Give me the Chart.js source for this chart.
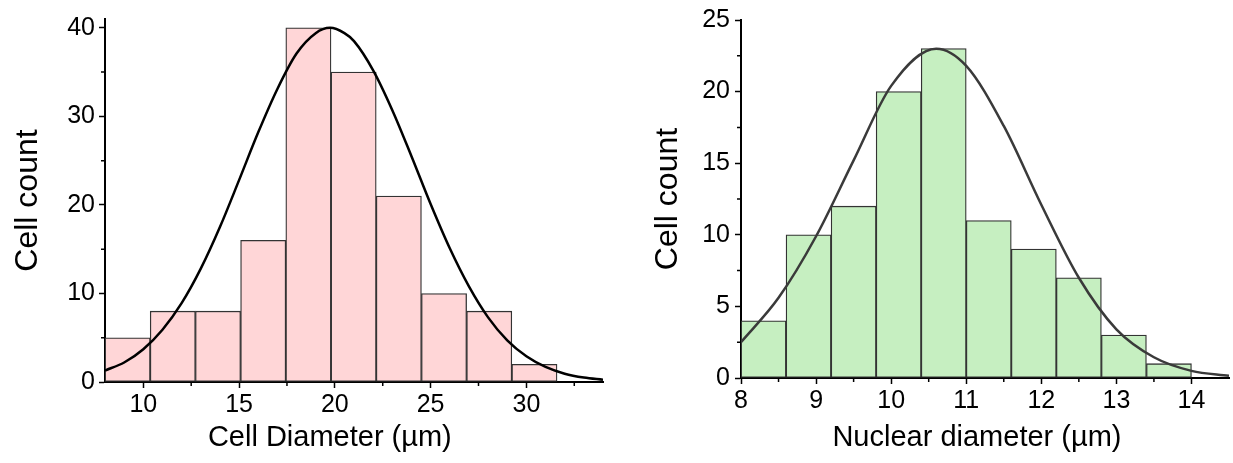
<!DOCTYPE html>
<html>
<head>
<meta charset="utf-8">
<script src="https://cdn.jsdelivr.net/npm/chart.js@4"></script>
<style>
  body { margin: 0; background: #fff; }
  #wrap { position: relative; width: 1233px; height: 463px; }
  #cellChart { position: absolute; left: 0; top: 0; }
  #nucChart { position: absolute; left: 620px; top: 0; }
</style>
</head>
<body>
<div id="wrap">
  <canvas id="cellChart" width="620" height="463"></canvas>
  <canvas id="nucChart" width="613" height="463"></canvas>
</div>
<script>
// cell diameter histogram (left)
const cellBinCenters = [9.18, 11.54, 13.90, 16.26, 18.62, 20.98, 23.34, 25.70, 28.06, 30.42];
const cellCounts = [5, 8, 8, 16, 40, 35, 21, 10, 8, 2];
const cellFitX = [8, 9, 10, 11, 12, 13, 14, 15, 16, 17, 18, 19, 19.75, 20.5, 21, 22, 23, 24, 25, 26, 27, 28, 29, 30, 31, 32, 33, 34];
const cellFitY = [1.3, 2.2, 3.7, 5.9, 8.9, 12.8, 17.5, 22.8, 28.2, 33.1, 37.1, 39.4, 40, 39.4, 38.5, 35.2, 30.7, 25.5, 20.1, 15.1, 10.8, 7.3, 4.7, 2.9, 1.7, 0.94, 0.5, 0.25];
const cellXTicks = [10, 15, 20, 25, 30];
const cellXMinor = [12.5, 17.5, 22.5, 27.5, 32.5];
const cellYTicks = [0, 10, 20, 30, 40];
const cellYMinor = [5, 15, 25, 35];

// nuclear diameter histogram (right)
const nucBinCenters = [8.3, 8.9, 9.5, 10.1, 10.7, 11.3, 11.9, 12.5, 13.1, 13.7];
const nucCounts = [4, 10, 12, 20, 23, 11, 9, 7, 3, 1];
const nucFitX = [8, 8.5, 9, 9.5, 10, 10.6, 11, 11.5, 12, 12.5, 13, 13.5, 14, 14.5];
const nucFitY = [2.5, 5.6, 9.9, 15.2, 20.4, 23, 21.8, 17.6, 12.1, 7.0, 3.4, 1.45, 0.5, 0.15];
const nucXTicks = [8, 9, 10, 11, 12, 13, 14];
const nucXMinor = [8.5, 9.5, 10.5, 11.5, 12.5, 13.5];
const nucYTicks = [0, 5, 10, 15, 20, 25];
const nucYMinor = [2.5, 7.5, 12.5, 17.5, 22.5];

const FONT = "'Liberation Sans', Arial, sans-serif";

// short minor ticks, Chart.js has none of its own
const minorTicks = {
  id: 'minorTicks',
  afterDraw(chart, args, opts) {
    const ctx = chart.ctx;
    const xs = chart.scales.x, ys = chart.scales.y;
    ctx.save();
    ctx.strokeStyle = '#000';
    ctx.lineWidth = 1.5;
    ctx.beginPath();
    opts.x.forEach(v => {
      const px = xs.getPixelForValue(v);
      ctx.moveTo(px, xs.top);
      ctx.lineTo(px, xs.top + 4);
    });
    opts.y.forEach(v => {
      const py = ys.getPixelForValue(v);
      ctx.moveTo(ys.right, py);
      ctx.lineTo(ys.right - 4, py);
    });
    ctx.stroke();
    ctx.restore();
  }
};

function makeHist(el, cfg) {
  const bars = cfg.centers.map((x, i) => ({ x: x, y: cfg.counts[i] }));
  const fit = cfg.fitX.map((x, i) => ({ x: x, y: cfg.fitY[i] }));
  return new Chart(document.getElementById(el), {
    data: {
      datasets: [{
        type: 'line',
        data: fit,
        borderColor: cfg.lineColor,
        borderWidth: 2.5,
        pointRadius: 0,
        cubicInterpolationMode: 'monotone',
        order: 0
      }, {
        type: 'bar',
        data: bars,
        backgroundColor: cfg.fill,
        borderColor: '#333',
        borderWidth: 1.3,
        borderSkipped: false,
        barPercentage: 1,
        categoryPercentage: 1,
        order: 1
      }]
    },
    plugins: [minorTicks],
    options: {
      responsive: false,
      animation: false,
      layout: { padding: cfg.padding },
      plugins: {
        legend: { display: false },
        tooltip: { enabled: false },
        minorTicks: { x: cfg.xMinor, y: cfg.yMinor }
      },
      scales: {
        x: {
          type: 'linear',
          offset: false,
          min: cfg.xMin,
          max: cfg.xMax,
          afterBuildTicks: s => { s.ticks = cfg.xTicks.map(v => ({ value: v })); },
          afterFit: s => { s.height = cfg.xHeight; },
          grid: { display: true, offset: false, drawOnChartArea: false, tickLength: 6, tickColor: '#000', tickWidth: 1.5 },
          border: { display: true, color: '#000', width: 2 },
          ticks: { color: '#000', font: { family: FONT, size: 25 }, padding: 2, autoSkip: false, maxRotation: 0 },
          title: {
            display: true,
            text: cfg.xTitle,
            color: '#000',
            font: { family: FONT, size: 29 },
            padding: { top: 0, bottom: 8 }
          }
        },
        y: {
          min: 0,
          max: cfg.yMax,
          afterBuildTicks: s => { s.ticks = cfg.yTicks.map(v => ({ value: v })); },
          afterFit: s => { s.width = cfg.yWidth; },
          grid: { display: true, drawOnChartArea: false, tickLength: 6, tickColor: '#000', tickWidth: 1.5 },
          border: { display: true, color: '#000', width: 2 },
          ticks: { color: '#000', font: { family: FONT, size: 25 }, padding: cfg.yPad, autoSkip: false },
          title: {
            display: true,
            text: 'Cell count',
            color: '#000',
            font: { family: FONT, size: 32 },
            padding: { top: cfg.yTitlePad, bottom: 0 }
          }
        }
      }
    }
  });
}

makeHist('cellChart', {
  centers: cellBinCenters, counts: cellCounts, fitX: cellFitX, fitY: cellFitY,
  fill: '#ffd6d7', lineColor: '#000',
  xMin: 8, xMax: 34, yMax: 41,
  xTicks: cellXTicks, xMinor: cellXMinor, yTicks: cellYTicks, yMinor: cellYMinor,
  xTitle: 'Cell Diameter (µm)      ',
  padding: { left: 0, right: 17, top: 13, bottom: 0 },
  xHeight: 81, yWidth: 105, yPad: 4, yTitlePad: 9
});

makeHist('nucChart', {
  centers: nucBinCenters, counts: nucCounts, fitX: nucFitX, fitY: nucFitY,
  fill: '#c6efc1', lineColor: '#3a3a3a',
  xMin: 8, xMax: 14.5, yMax: 25,
  xTicks: nucXTicks, xMinor: nucXMinor, yTicks: nucYTicks, yMinor: nucYMinor,
  xTitle: 'Nuclear diameter (µm)  ',
  padding: { left: 0, right: 4, top: 15, bottom: 0 },
  xHeight: 85, yWidth: 121, yPad: 5, yTitlePad: 29
});
</script>
</body>
</html>
